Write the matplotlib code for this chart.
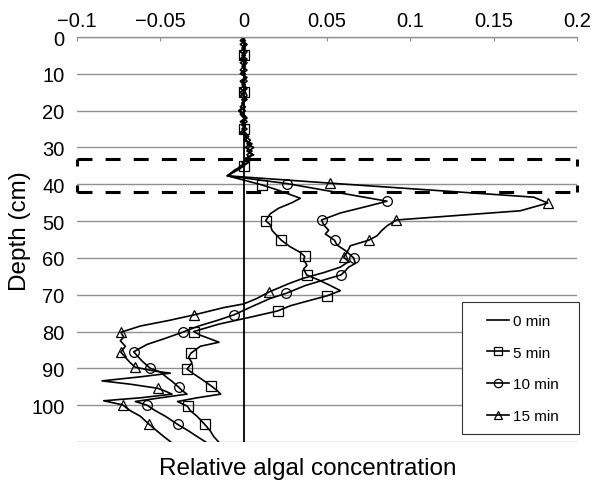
import matplotlib.pyplot as plt
from matplotlib.lines import Line2D
from matplotlib.patches import Rectangle

plt.rcParams['font.family'] = ['Liberation Sans', 'DejaVu Sans']

# Dados (profundidade em cm, concentracao relativa)
depth_0 = [0, 110]
conc_0 = [0.0, 0.0]

depth_5 = list(range(37)) + [
    37.7, 40.2, 41.5, 43.8, 45, 46.5, 48, 49.9, 51, 52.5, 53.5, 55.2, 57, 58.5,
    59.6, 60.5, 62, 63, 64.6, 66, 67.5, 68.9, 70.3, 72, 73, 74.4, 76, 78, 80, 81, 82,
    82.9, 84, 85.9, 87, 88.5, 90.2, 91.5, 93, 94.8, 96, 97, 98, 99, 100.3, 101.5, 103,
    105.2, 107, 108.5, 110]
conc_5 = [0.000, -0.002, 0.001, -0.001, 0.002, 0.000, -0.002, 0.001, -0.001, 0.002, -0.001,
          0.001, -0.002, 0.000, 0.002, 0.000, -0.002, 0.001, -0.001, 0.000, -0.003, -0.001,
          0.001, -0.002, 0.001, 0.000, -0.002, 0.002, 0.000, 0.004, 0.001, 0.005, 0.002,
          0.004, -0.001, 0.000, -0.003,
          -0.0098, 0.0112, 0.020, 0.034, 0.029, 0.021, 0.016, 0.0132, 0.016, 0.017,
          0.019, 0.0226, 0.028, 0.034, 0.0366, 0.036, 0.038, 0.036, 0.0377, 0.045, 0.052,
          0.058, 0.050, 0.036, 0.028, 0.0204, 0.005, -0.015, -0.030, -0.026, -0.020,
          -0.0148, -0.026, -0.0317, -0.033, -0.031, -0.034, -0.030, -0.025, -0.0194, -0.016,
          -0.0138, -0.028, -0.0397, -0.0337, -0.032, -0.028, -0.0234, -0.020, -0.018, -0.015]
marks_5 = [5, 15, 25, 35, 40.2, 49.9, 55.2, 59.6, 64.6, 70.3, 74.4, 80, 85.9, 90.2, 94.8,
           100.3, 105.2]

depth_10 = list(range(37)) + [
    37.7, 39.8, 44.6, 46, 47.8, 49.7, 51, 52.5, 53.5,
    55.2, 56.5, 58, 60, 61.5, 62.5, 63.5, 64.6, 66, 67.5, 69.6, 71, 73, 75.5, 77,
    78.5, 80.2, 82, 83.5, 85.5, 86.5, 88, 90, 91, 92.5, 93.5, 95.1, 96, 97, 98, 99,
    100, 101.5, 103, 105.2, 107, 108.5, 110]
conc_10 = [0.001, -0.001, 0.002, 0.000, -0.002, 0.001, -0.001, 0.002, 0.000, -0.002, 0.001,
           0.000, 0.002, -0.001, 0.001, -0.002, 0.000, 0.002, -0.001, 0.001, -0.002, 0.000,
           0.002, -0.001, 0.001, -0.001, 0.001, 0.003, 0.001, 0.005, 0.003, 0.002, 0.006,
           0.001, 0.003, -0.002, -0.004,
           -0.0098, 0.0258, 0.086, 0.074, 0.058, 0.0467, 0.048, 0.051, 0.049, 0.0545, 0.056,
           0.061, 0.066, 0.067, 0.063, 0.061, 0.0585, 0.048, 0.037, 0.0256, 0.016, 0.006,
           -0.006, -0.016, -0.027, -0.0367, -0.048, -0.058, -0.066, -0.064, -0.061, -0.056,
           -0.050, -0.046, -0.043, -0.039, -0.037, -0.034, -0.050, -0.065, -0.058, -0.053,
           -0.047, -0.0397, -0.033, -0.028, -0.0228]
marks_10 = [39.8, 44.6, 49.7, 55.2, 60, 64.6, 69.6, 75.5, 80.2, 85.5, 90, 95.1, 100, 105.2]

depth_15 = list(range(37)) + [
    37.7, 39.7, 43.5, 45.1, 47.2, 49.7, 51.3, 52.5, 54,
    55.2, 56.7, 58.5, 59.8, 61, 62.5, 64, 65.5, 67, 69.3, 71, 72.5, 73.5, 75.5, 77,
    78.5, 80.2, 81.5, 82.5, 84, 85.6, 87, 88.5, 89.7, 90.7, 91.3, 92.3, 93.4, 94.3,
    95.4, 96.2, 97, 98, 98.8, 99.9, 101.5, 103, 105.2, 107, 108.5, 110]
conc_15 = [-0.001, 0.001, -0.002, 0.001, 0.000, -0.001, 0.002, -0.002, 0.001, 0.000, -0.002,
           0.002, -0.001, 0.001, -0.002, 0.001, 0.002, -0.001, 0.000, -0.002, 0.001, -0.002,
           0.000, 0.002, -0.001, 0.002, -0.001, 0.001, 0.004, 0.002, 0.006, 0.003, 0.005,
           0.001, 0.003, 0.000, -0.005,
           -0.0098, 0.052, 0.174, 0.1825, 0.166, 0.0916, 0.086, 0.083, 0.080, 0.075, 0.064,
           0.062, 0.060, 0.063, 0.058, 0.048, 0.036, 0.027, 0.015, 0.008, 0.000, -0.012,
           -0.030, -0.045, -0.062, -0.0737, -0.072, -0.074, -0.071, -0.0737, -0.071, -0.068,
           -0.065, -0.054, -0.044, -0.062, -0.085, -0.068, -0.0517, -0.047, -0.043, -0.062,
           -0.084, -0.0727, -0.068, -0.062, -0.0567, -0.052, -0.048, -0.0437]
marks_15 = [39.7, 45.1, 49.7, 55.2, 59.8, 69.3, 75.5, 80.2, 85.6, 89.7, 95.4, 99.9, 105.2]

series_labels = ['0 min', '5 min', '10 min', '15 min']
x_ticks = [-0.1, -0.05, 0, 0.05, 0.1, 0.15, 0.2]
x_tick_labels = ['\u22120.1', '\u22120.05', '0', '0.05', '0.1', '0.15', '0.2']
y_ticks = [0, 10, 20, 30, 40, 50, 60, 70, 80, 90, 100, 110]
y_tick_labels = ['0', '10', '20', '30', '40', '50', '60', '70', '80', '90', '100', '']
zone_top, zone_bottom = 33, 42

fig = plt.figure(figsize=(5.93, 4.81), dpi=100)
ax = fig.add_axes([77 / 593, 1 - 443 / 481, 500 / 593, 405 / 481])

grid_col = '#909090'
ax.set_xlim(-0.1, 0.2)
ax.set_ylim(110, 0)
ax.xaxis.tick_top()
ax.set_xticks(x_ticks)
ax.set_xticklabels(x_tick_labels)
ax.set_yticks(y_ticks)
ax.set_yticklabels(y_tick_labels)
ax.tick_params(axis='x', direction='in', length=3, color=grid_col, labelsize=14.5, pad=5)
ax.tick_params(axis='y', length=0, labelsize=14.5, pad=9)
ax.yaxis.grid(True, color=grid_col, lw=1.0)
ax.set_axisbelow(True)
for s in ['left', 'right', 'bottom']:
    ax.spines[s].set_visible(False)
ax.spines['top'].set_color(grid_col)
ax.spines['top'].set_linewidth(1.0)

mk_style = dict(color='k', lw=1.2, mfc='none', mec='k', mew=0.9)

ax.plot(conc_0, depth_0, color='k', lw=1.3)
ax.plot(conc_5, depth_5, marker='s', ms=7,
        markevery=[i for i, d in enumerate(depth_5) if d in marks_5], **mk_style)
ax.plot(conc_10, depth_10, marker='o', ms=7,
        markevery=[i for i, d in enumerate(depth_10) if d in marks_10], **mk_style)
ax.plot(conc_15, depth_15, marker='^', ms=7,
        markevery=[i for i, d in enumerate(depth_15) if d in marks_15], **mk_style)

# zona tracejada: lados horizontais e cantos curtos
dash_h = (0, (4.9, 4.3))
dash_v = (0, (2.3, 6.2))
for yy in [zone_top, zone_bottom]:
    ax.plot([-0.1, 0.2], [yy, yy], color='k', lw=2.2, ls=dash_h, clip_on=False, zorder=4)
for xx in [-0.1, 0.2]:
    ax.plot([xx, xx], [zone_top, zone_bottom], color='k', lw=2.2, ls=dash_v,
            clip_on=False, zorder=4)

# caixa da legenda
fig.add_artist(Rectangle((462 / 593, 1 - 435 / 481), 117 / 593, 132 / 481,
                         transform=fig.transFigure, fc='white', ec='#333333', lw=0.8,
                         zorder=2))
handles = [Line2D([], [], color='k', lw=1.2),
           Line2D([], [], marker='s', ms=6, **mk_style),
           Line2D([], [], marker='o', ms=6, **mk_style),
           Line2D([], [], marker='^', ms=6, **mk_style)]
fig.legend(handles, series_labels, loc='center', bbox_to_anchor=(523 / 593, 1 - 369.5 / 481),
           frameon=False, fontsize=11, handlelength=1.45, handletextpad=0.3,
           labelspacing=1.15, borderpad=0.2)

fig.text(20 / 593, 1 - 231 / 481, 'Depth (cm)', rotation=90, ha='center', va='center',
         fontsize=17.5)
fig.text(308 / 593, 6 / 481, 'Relative algal concentration', ha='center', va='baseline',
         fontsize=17.5)

fig.savefig('out.png', dpi=100)
